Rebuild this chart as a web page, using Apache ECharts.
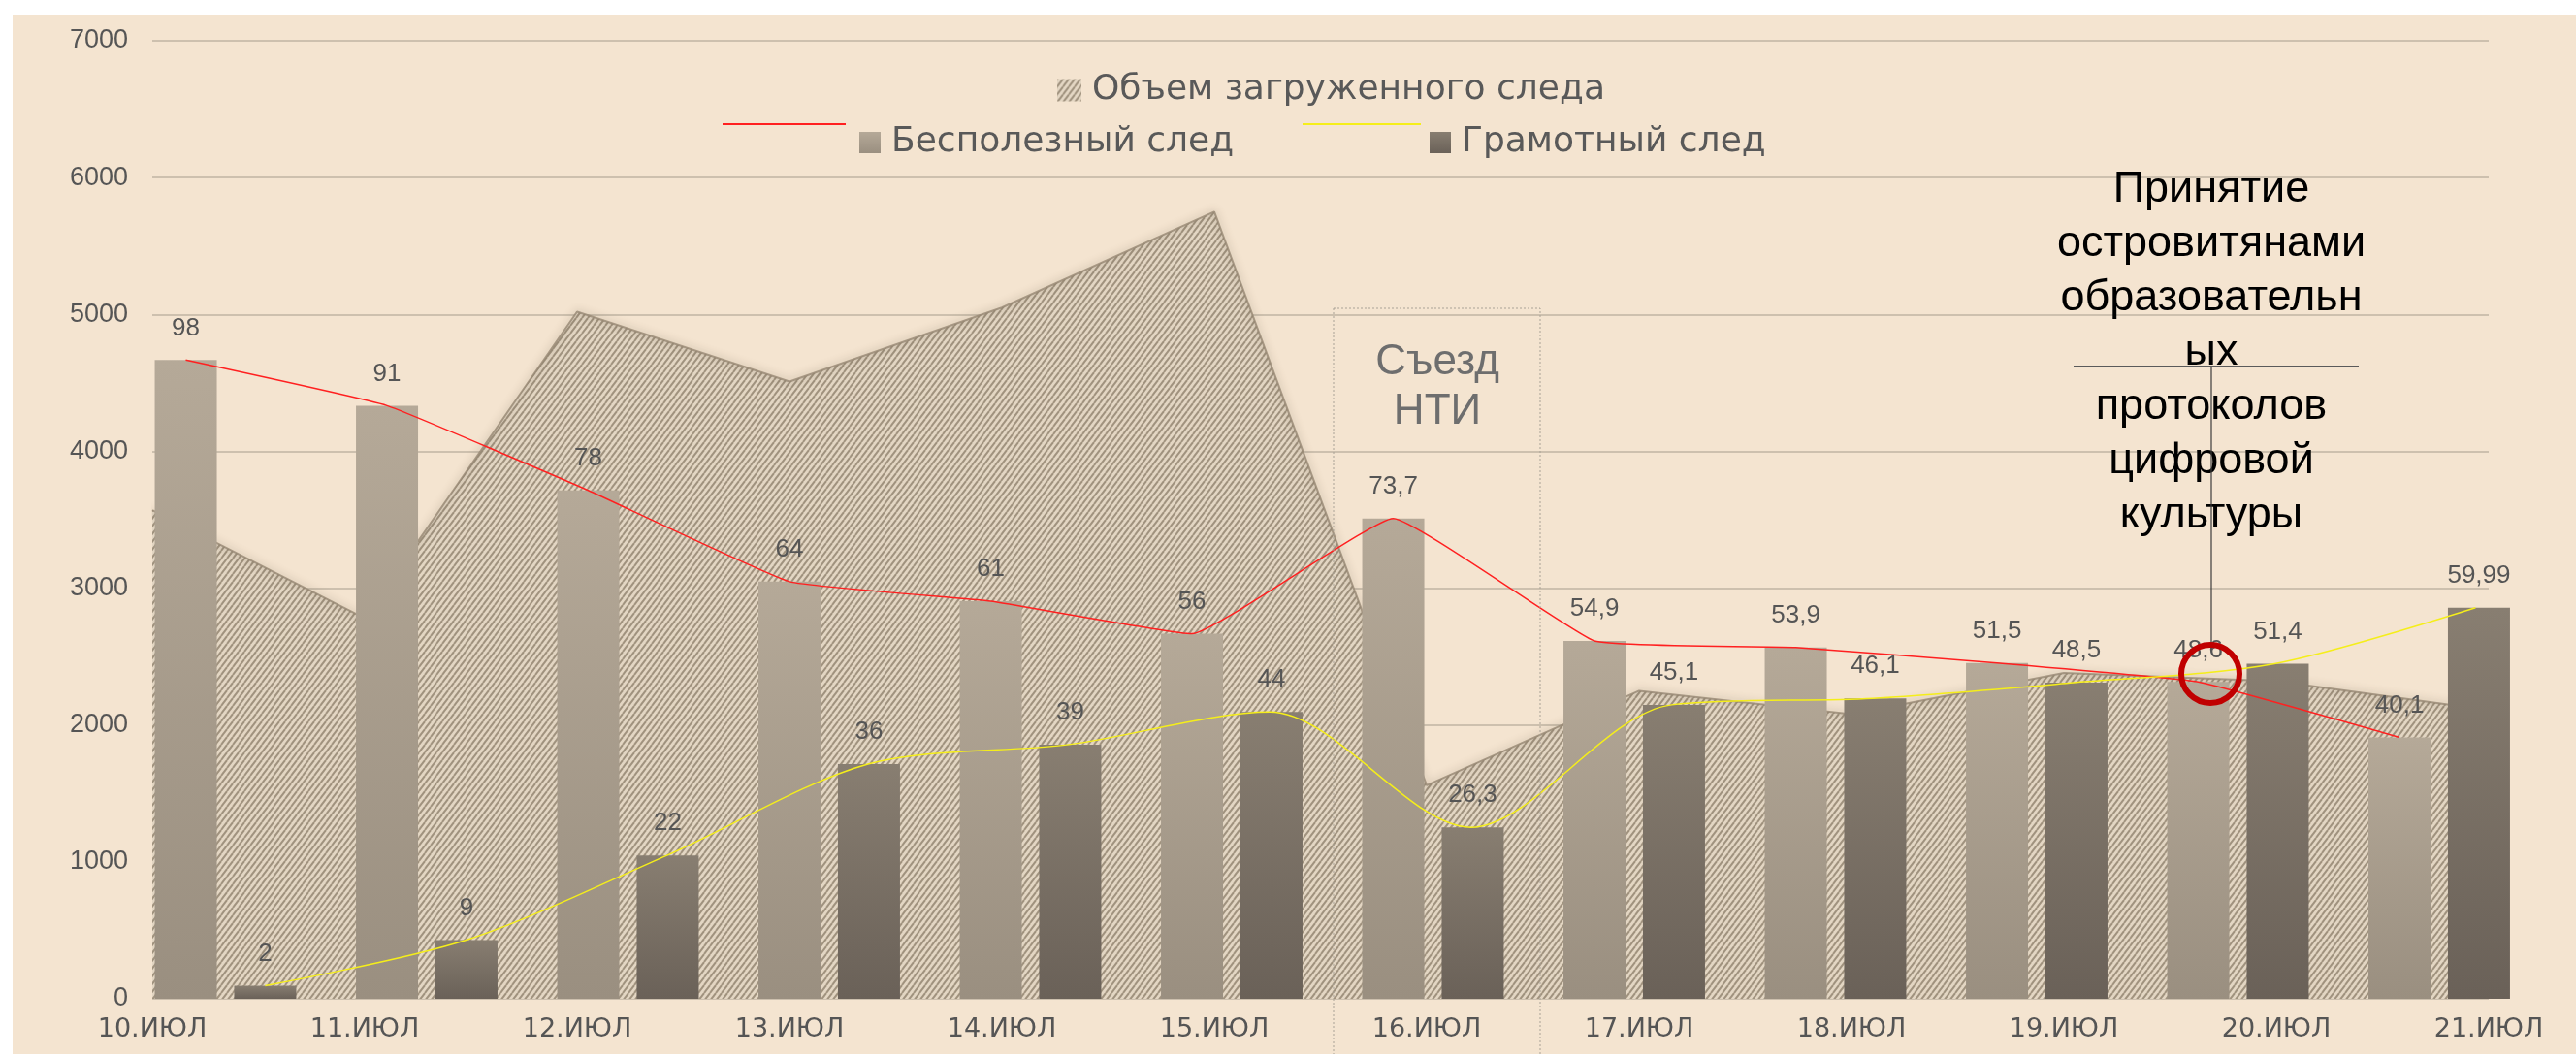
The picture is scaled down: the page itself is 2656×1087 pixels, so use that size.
<!DOCTYPE html>
<html>
<head>
<meta charset="utf-8">
<script src="https://cdn.jsdelivr.net/npm/echarts@6/dist/echarts.min.js"></script>
<style>
html, body { margin: 0; padding: 0; background: #fff; }
#bg { position: absolute; left: 13px; top: 15px; width: 2643px; height: 1072px; background: #F4E4D0; }
#chart_1 { position: absolute; left: 0; top: 0; width: 2656px; height: 1087px; }
</style>
</head>
<body>
<div id="bg"></div>
<div id="chart_1"></div>
<script>
var dates = ['10.ИЮЛ', '11.ИЮЛ', '12.ИЮЛ', '13.ИЮЛ', '14.ИЮЛ', '15.ИЮЛ', '16.ИЮЛ', '17.ИЮЛ', '18.ИЮЛ', '19.ИЮЛ', '20.ИЮЛ', '21.ИЮЛ'];
// объем загруженного следа (левая ось)
var volume = [3570, 2780, 5020, 4510, 5050, 5750, 1560, 2250, 2080, 2380, 2320, 2110];
// бесполезный и грамотный след (вторая ось)
var useless = [98, 91, 78, 64, 61, 56, 73.7, 54.9, 53.9, 51.5, 48.6, 40.1];
var literate = [2, 9, 22, 36, 39, 44, 26.3, 45.1, 46.1, 48.5, 51.4, 59.99];
var yMin = 0, yMax = 7000, yStep = 1000;
var y2Max = 147;

var legendNames = ['Объем загруженного следа', 'Бесполезный след', 'Грамотный след', 'Бесполезный след (линия)', 'Грамотный след (линия)'];

// штриховка для площади
function makeHatch() {
    var c = document.createElement('canvas');
    c.width = 6;
    c.height = 8;
    var g = c.getContext('2d');
    g.fillStyle = '#E3D6C3';
    g.fillRect(0, 0, 6, 8);
    g.strokeStyle = '#A0927E';
    g.lineWidth = 2;
    for (var k = -6; k <= 6; k += 6) {
        g.beginPath();
        g.moveTo(k, 8);
        g.lineTo(k + 6, 0);
        g.stroke();
    }
    return c;
}
var hatch = { image: makeHatch(), repeat: 'repeat' };

function comma(v) {
    return String(v).replace('.', ',');
}

var myChart = echarts.init(document.getElementById('chart_1'), null, { renderer: 'canvas' });

var gridTop = 42, gridBottom = 57;
var barLeft = 128.75, barRight = 37.25, shift = 41; // центры столбиков

var hiddenX = function (i) {
    return { type: 'category', gridIndex: i, data: dates, show: false };
};
var hiddenY = function (i) {
    return { type: 'value', gridIndex: i, min: 0, max: y2Max, show: false };
};

var barLabel = {
    show: true,
    position: 'top',
    distance: 20,
    color: '#555555',
    fontFamily: 'Liberation Sans',
    fontSize: 26,
    formatter: function (p) { return comma(p.value); }
};

var option = {
    backgroundColor: 'transparent',
    animation: false,
    grid: [
        { left: 157, right: 90, top: gridTop, bottom: gridBottom },
        { left: barLeft, right: barRight, top: gridTop, bottom: gridBottom },
        { left: barLeft - shift, right: barRight + shift, top: gridTop, bottom: gridBottom },
        { left: barLeft + shift, right: barRight - shift, top: gridTop, bottom: gridBottom }
    ],
    xAxis: [
        {
            type: 'category',
            gridIndex: 0,
            data: dates,
            boundaryGap: false,
            axisLine: { show: false },
            axisTick: { show: false },
            axisLabel: {
                margin: 18,
                color: '#555555',
                fontFamily: 'DejaVu Sans',
                fontSize: 27
            }
        },
        hiddenX(1), hiddenX(2), hiddenX(3)
    ],
    yAxis: [
        {
            type: 'value',
            gridIndex: 0,
            min: yMin,
            max: yMax,
            interval: yStep,
            axisLine: { show: false },
            axisTick: { show: false },
            axisLabel: {
                margin: 25,
                color: '#555555',
                fontFamily: 'Liberation Sans',
                fontSize: 27,
                formatter: function (v) { return String(v); }
            },
            splitLine: { lineStyle: { color: '#CDC0AE', width: 2 } }
        },
        hiddenY(1), hiddenY(2), hiddenY(3)
    ],
    legend: [
        {
            left: 1085, top: 68, itemWidth: 25, itemHeight: 23, itemGap: 0,
            selectedMode: false, icon: 'rect',
            data: [{ name: legendNames[0], itemStyle: { color: hatch } }],
            textStyle: { color: '#595959', fontFamily: 'DejaVu Sans', fontSize: 36, lineHeight: 40, padding: [0, 0, 0, 6] }
        },
        {
            left: 740, top: 122, itemWidth: 127, itemHeight: 2, selectedMode: false, icon: 'rect',
            data: [legendNames[3]],
            formatter: function () { return ''; }
        },
        {
            left: 881, top: 122, itemWidth: 22, itemHeight: 22, selectedMode: false, icon: 'rect',
            data: [legendNames[1]],
            textStyle: { color: '#595959', fontFamily: 'DejaVu Sans', fontSize: 36, lineHeight: 40, padding: [0, 0, 0, 6] }
        },
        {
            left: 1338, top: 122, itemWidth: 122, itemHeight: 2, selectedMode: false, icon: 'rect',
            data: [legendNames[4]],
            formatter: function () { return ''; }
        },
        {
            left: 1469, top: 122, itemWidth: 22, itemHeight: 22, selectedMode: false, icon: 'rect',
            data: [legendNames[2]],
            textStyle: { color: '#595959', fontFamily: 'DejaVu Sans', fontSize: 36, lineHeight: 40, padding: [0, 0, 0, 6] }
        }
    ],
    series: [
        {
            name: legendNames[0],
            type: 'line',
            xAxisIndex: 0,
            yAxisIndex: 0,
            data: volume,
            symbol: 'none',
            z: 1,
            itemStyle: { color: '#B7AA97' },
            lineStyle: { color: 'rgba(150,135,115,0.8)', width: 2, shadowBlur: 8, shadowColor: 'rgba(100,85,65,0.6)' },
            areaStyle: { color: hatch, opacity: 1 }
        },
        {
            name: legendNames[1],
            type: 'bar',
            xAxisIndex: 1,
            yAxisIndex: 1,
            data: useless,
            barWidth: 64,
            barGap: '28%',
            z: 2,
            itemStyle: {
                color: new echarts.graphic.LinearGradient(0, 0, 0, 1, [
                    { offset: 0, color: '#B5A998' },
                    { offset: 1, color: '#9A8F80' }
                ])
            },
            label: barLabel
        },
        {
            name: legendNames[2],
            type: 'bar',
            xAxisIndex: 1,
            yAxisIndex: 1,
            data: literate,
            barWidth: 64,
            z: 2,
            itemStyle: {
                color: new echarts.graphic.LinearGradient(0, 0, 0, 1, [
                    { offset: 0, color: '#887E71' },
                    { offset: 1, color: '#6A6158' }
                ])
            },
            label: barLabel
        },
        {
            name: legendNames[3],
            type: 'line',
            xAxisIndex: 2,
            yAxisIndex: 2,
            data: useless,
            symbol: 'none',
            smooth: 0.1,
            clip: false,
            z: 4,
            itemStyle: { color: '#FF2020' },
            lineStyle: { color: '#FF2020', width: 1.5 }
        },
        {
            name: legendNames[4],
            type: 'line',
            xAxisIndex: 3,
            yAxisIndex: 3,
            data: literate,
            symbol: 'none',
            smooth: 0.3,
            clip: false,
            z: 4,
            itemStyle: { color: '#F5EE1A' },
            lineStyle: { color: '#F5EE1A', width: 1.5 }
        }
    ],
    graphic: [
        // рамка "Съезд НТИ"
        {
            type: 'rect', z: 10,
            shape: { x: 1375, y: 318, width: 213, height: 800 },
            style: { fill: 'none', stroke: '#A9A296', lineWidth: 1, lineDash: [2, 2] }
        },
        {
            type: 'text', z: 10, x: 1482, y: 399,
            style: {
                text: 'Съезд\nНТИ', align: 'center', verticalAlign: 'middle',
                fontFamily: 'Liberation Sans', fontSize: 44, lineHeight: 51, fill: '#6E6E6E'
            }
        },
        // выноска
        {
            type: 'text', z: 10, x: 2280, y: 364,
            style: {
                text: 'Принятие\nостровитянами\nобразовательн\nых\nпротоколов\nцифровой\nкультуры',
                align: 'center', verticalAlign: 'middle',
                fontFamily: 'Liberation Sans', fontSize: 45, lineHeight: 56, fill: '#000'
            }
        },
        {
            type: 'line', z: 10,
            shape: { x1: 2138, y1: 378, x2: 2432, y2: 378 },
            style: { stroke: '#5A5A5A', lineWidth: 2 }
        },
        {
            type: 'line', z: 10,
            shape: { x1: 2280, y1: 378, x2: 2280, y2: 665 },
            style: { stroke: '#3C3C3C', lineWidth: 1.2 }
        },
        {
            type: 'circle', z: 11,
            shape: { cx: 2279, cy: 695, r: 30 },
            style: { fill: 'none', stroke: '#C00000', lineWidth: 6 }
        }
    ]
};

myChart.setOption(option);
</script>
</body>
</html>
